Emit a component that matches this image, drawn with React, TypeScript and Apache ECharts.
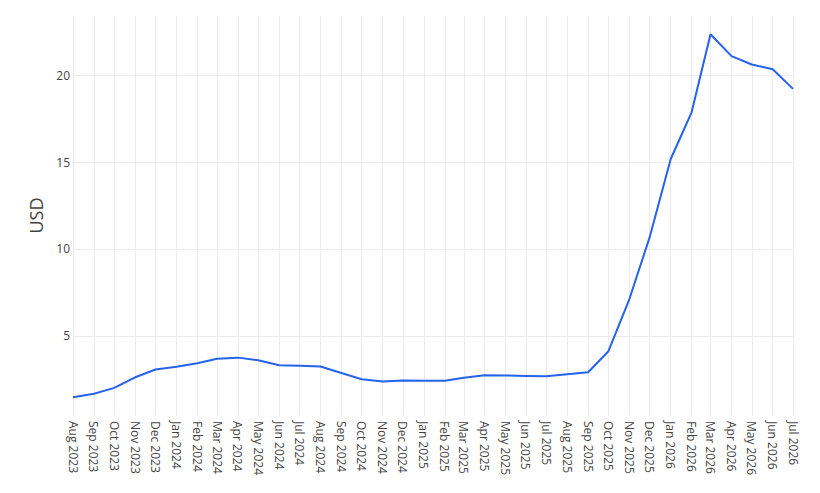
import React, { useEffect, useRef } from "react";
import * as echarts from "echarts";

const dates: string[] = [
  "2023-08-01", "2023-09-01", "2023-10-01", "2023-11-01", "2023-12-01",
  "2024-01-01", "2024-02-01", "2024-03-01", "2024-04-01", "2024-05-01", "2024-06-01",
  "2024-07-01", "2024-08-01", "2024-09-01", "2024-10-01", "2024-11-01", "2024-12-01",
  "2025-01-01", "2025-02-01", "2025-03-01", "2025-04-01", "2025-05-01", "2025-06-01",
  "2025-07-01", "2025-08-01", "2025-09-01", "2025-10-01", "2025-11-01", "2025-12-01",
  "2026-01-01", "2026-02-01", "2026-03-01", "2026-04-01", "2026-05-01", "2026-06-01",
  "2026-07-01",
];

const usdValues: number[] = [
  1.47, 1.67, 2.01, 2.62, 3.07,
  3.22, 3.43, 3.68, 3.75, 3.6, 3.31,
  3.28, 3.24, 2.87, 2.51, 2.38, 2.43,
  2.42, 2.42, 2.59, 2.74, 2.72, 2.7,
  2.68, 2.8, 2.91, 4.12, 7.12, 10.68,
  15.16, 17.86, 22.35, 21.09, 20.61, 20.34,
  19.21,
];

const monthNames: string[] = ["Jan", "Feb", "Mar", "Apr", "May", "Jun", "Jul", "Aug", "Sep", "Oct", "Nov", "Dec"];

const yAxisTitle = "USD";
const yTickValues: number[] = [5, 10, 15, 20];

export default function App() {
  const ref = useRef<HTMLDivElement>(null);
  useEffect(() => {
    if (!ref.current) return;
    const chart = echarts.init(ref.current, undefined, { renderer: "svg" });
    const font = "'Open Sans', 'Noto Sans', sans-serif";
    chart.setOption({
      animation: false,
      backgroundColor: "#ffffff",
      grid: { left: 73, right: 27, top: 16, bottom: 78, containLabel: false },
      xAxis: {
        type: "time",
        min: dates[0],
        max: dates[dates.length - 1],
        minInterval: 28 * 24 * 3600 * 1000,
        maxInterval: 31 * 24 * 3600 * 1000,
        axisLine: { show: false },
        axisTick: { show: false },
        splitLine: {
          show: true,
          showMinLine: false,
          showMaxLine: false,
          lineStyle: { color: "#ebebeb", width: 1 },
        },
        axisLabel: {
          rotate: -90,
          margin: 6,
          color: "#444",
          fontSize: 12,
          fontFamily: font,
          showMinLabel: true,
          showMaxLabel: true,
          formatter: (v: number) => {
            const d = new Date(v);
            return monthNames[d.getMonth()] + " " + d.getFullYear();
          },
        },
      },
      yAxis: {
        type: "value",
        min: 0.45,
        max: 23.4,
        name: yAxisTitle,
        nameLocation: "middle",
        nameRotate: 90,
        nameGap: 23,
        nameTextStyle: { color: "#444", fontSize: 18, fontFamily: font },
        axisLine: { show: false },
        axisTick: { show: false },
        splitLine: {
          show: true,
          showMinLine: false,
          showMaxLine: false,
          lineStyle: { color: "#ebebeb", width: 1 },
        },
        axisLabel: {
          margin: 3,
          color: "#444",
          fontSize: 12,
          fontFamily: font,
          showMinLabel: false,
          showMaxLabel: false,
          formatter: (v: number) => (yTickValues.indexOf(v) >= 0 ? String(v) : ""),
        },
      },
      series: [
        {
          type: "line",
          data: dates.map((d, i) => [d, usdValues[i]]),
          showSymbol: false,
          symbol: "none",
          lineStyle: { color: "#2563eb", width: 2 },
          itemStyle: { color: "#2563eb" },
        },
      ],
    });
    return () => chart.dispose();
  }, []);
  return <div ref={ref} style={{ width: 820, height: 493, margin: -8 }} />;
}
